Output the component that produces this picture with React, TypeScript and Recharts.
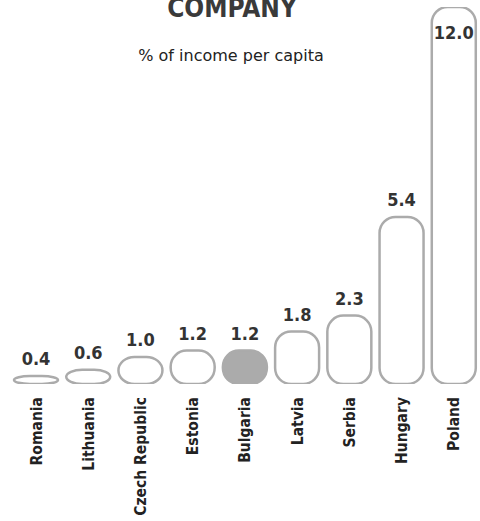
import React from 'react';
import { BarChart, Bar, XAxis, YAxis, LabelList } from 'recharts';

const countries = ['Romania', 'Lithuania', 'Czech Republic', 'Estonia', 'Bulgaria', 'Latvia', 'Serbia', 'Hungary', 'Poland'];
const shares = [0.4, 0.6, 1.0, 1.2, 1.2, 1.8, 2.3, 5.4, 12.0];
const highlighted = 'Bulgaria';

const chartData = countries.map((name, i) => ({ name, share: shares[i] }));

const FONT = '"DejaVu Sans", sans-serif';
const FONT_NARROW = '"DejaVu Sans Condensed", "DejaVu Sans", sans-serif';
const GREY = '#ababab';

// rounded bar with elliptical corners, so the short bars turn into ovals
const PillBar = (props: any) => {
    const { x, y, width: w, height: h } = props;
    if (!w || !h) return null;
    const name = props.payload?.name ?? props.name;
    const rx = Math.min(16, w / 2);
    const ry = Math.min(16, h / 2);
    const d = [
        `M${x},${y + ry}`,
        `A${rx},${ry} 0 0 1 ${x + rx},${y}`,
        `L${x + w - rx},${y}`,
        `A${rx},${ry} 0 0 1 ${x + w},${y + ry}`,
        `L${x + w},${y + h - ry}`,
        `A${rx},${ry} 0 0 1 ${x + w - rx},${y + h}`,
        `L${x + rx},${y + h}`,
        `A${rx},${ry} 0 0 1 ${x},${y + h - ry}`,
        'Z',
    ].join(' ');
    return <path d={d} fill={name === highlighted ? GREY : '#fff'} stroke={GREY} strokeWidth={2.5} />;
};

const CountryTick = (props: any) => {
    const { x, y, payload } = props;
    return (
        <text
            transform={`translate(${x},${y + 5}) rotate(-90)`}
            textAnchor="end"
            dy="0.35em"
            fontFamily={FONT_NARROW}
            fontSize={15.5}
            fontWeight={700}
            fill="#222"
        >
            {payload.value}
        </text>
    );
};

const ValueLabel = (props: any) => {
    const { x, y, width, value } = props;
    // tallest bar has no room above, so its label goes inside
    const inside = y < 30;
    return (
        <text
            x={x + width / 2}
            y={inside ? y + 32 : y - 11}
            textAnchor="middle"
            fontFamily={FONT_NARROW}
            fontSize={18}
            fontWeight={700}
            fill="#333"
        >
            {Number(value).toFixed(1)}
        </text>
    );
};

export default function App() {
    return (
        <div style={{ position: 'absolute', left: 0, top: 0, width: 480, height: 521, background: '#fff' }}>
            <BarChart width={480} height={521} data={chartData} margin={{ top: 7, right: 0, bottom: 0, left: 10 }}>
                <XAxis dataKey="name" interval={0} height={137} axisLine={false} tickLine={false} tick={<CountryTick />} />
                <YAxis hide domain={[0.15, 12]} allowDataOverflow />
                <Bar dataKey="share" barSize={44} shape={<PillBar />} isAnimationActive={false}>
                    <LabelList dataKey="share" content={<ValueLabel />} />
                </Bar>
            </BarChart>
            <svg width={480} height={521} style={{ position: 'absolute', left: 0, top: 0, pointerEvents: 'none' }}>
                <text x={232} y={17} textAnchor="middle" fontFamily={FONT_NARROW} fontSize={26} fontWeight={700} fill="#3a3a3a">
                    COMPANY
                </text>
                <text x={231} y={61} textAnchor="middle" fontFamily={FONT} fontSize={16} fill="#222">
                    % of income per capita
                </text>
            </svg>
        </div>
    );
}
